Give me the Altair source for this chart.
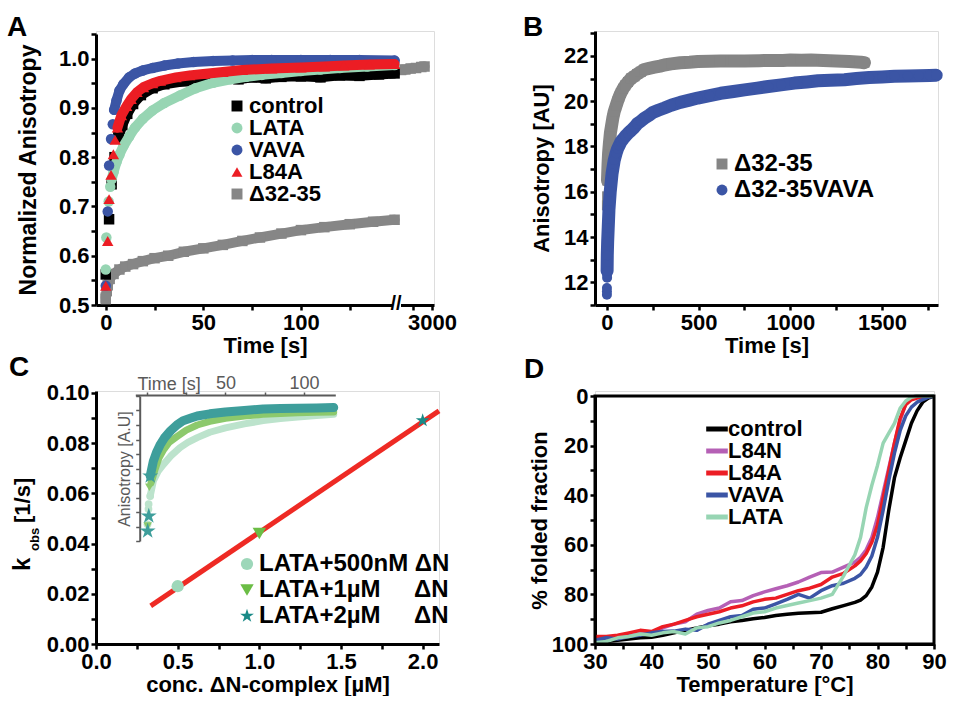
import altair as alt
import pandas as pd

F = "Liberation Sans"
STAR = "M0,-1L0.2245,-0.309L0.951,-0.309L0.363,0.118L0.588,0.809L0,0.382L-0.588,0.809L-0.363,0.118L-0.951,-0.309L-0.2245,-0.309Z"
HLINE = "M-1.8,0L1.8,0"

# ---------------- Panel A data ----------------
A_names = ["control", "LATA", "VAVA", "L84A", "Δ32-35"]
A_colors = ["#000000", "#97d5b3", "#3b55a5", "#ec1d24", "#868686"]
A_shapes = ["square", "circle", "circle", "triangle-up", "square"]

ctrl_mk_t = [0, 1.7, 3.0, 4.5, 6.5]
ctrl_mk_v = [0.562, 0.674, 0.745, 0.800, 0.840]
ctrl_bd_t = [6.5, 8.5, 11, 14, 18, 24, 30, 40, 50, 60, 68, 75, 82, 90, 100, 110, 120, 130, 140, 148]
ctrl_bd_v = [0.840, 0.865, 0.888, 0.908, 0.926, 0.940, 0.948, 0.954, 0.958, 0.960, 0.958, 0.962, 0.960, 0.963, 0.964, 0.962, 0.966, 0.965, 0.968, 0.970]

lata_mk_t = [0, 0.3, 1.5, 2.3]
lata_mk_v = [0.572, 0.637, 0.710, 0.740]
lata_bd_t = [3, 4, 5.5, 7, 9, 12, 15, 19, 24, 30, 38, 46, 55, 64, 72, 80, 90, 100, 110, 120, 134, 148]
lata_bd_v = [0.755, 0.770, 0.790, 0.805, 0.822, 0.842, 0.860, 0.878, 0.895, 0.910, 0.925, 0.940, 0.951, 0.958, 0.963, 0.967, 0.971, 0.975, 0.978, 0.981, 0.984, 0.987]

vava_mk_t = [0, 1.0, 1.7, 2.7, 3.6]
vava_mk_v = [0.539, 0.690, 0.783, 0.837, 0.867]
vava_bd_t = [4.3, 5.5, 7, 9, 12, 15, 19, 24, 30, 37, 45, 55, 65, 75, 85, 100, 115, 130, 148]
vava_bd_v = [0.896, 0.915, 0.935, 0.948, 0.962, 0.970, 0.976, 0.981, 0.986, 0.990, 0.993, 0.995, 0.996, 0.997, 0.997, 0.997, 0.997, 0.997, 0.996]

l84a_mk_t = [0, 1.0, 1.7, 2.7, 3.9, 4.8]
l84a_mk_v = [0.539, 0.630, 0.715, 0.764, 0.806, 0.835]
l84a_bd_t = [6, 8, 10.7, 13, 16, 19.3, 24, 28, 36, 43, 50, 60, 70, 85, 100, 112, 122, 135, 148]
l84a_bd_v = [0.860, 0.885, 0.904, 0.918, 0.932, 0.942, 0.950, 0.955, 0.962, 0.966, 0.969, 0.973, 0.977, 0.980, 0.982, 0.984, 0.986, 0.988, 0.989]

d32_mk_t = [0, 0.5]
d32_mk_v = [0.512, 0.528]
d32_bd_t = [0, 1, 2, 4, 7, 10, 14, 19, 25, 32, 40, 50, 60, 70, 79, 90, 100, 112, 125, 137, 148]
d32_bd_v = [0.515, 0.540, 0.553, 0.563, 0.572, 0.578, 0.583, 0.589, 0.595, 0.600, 0.608, 0.615, 0.622, 0.630, 0.637, 0.645, 0.652, 0.658, 0.664, 0.669, 0.673]
d32_late_t = [2420, 2500, 2600, 2700, 2800, 2860]
d32_late_v = [0.977, 0.978, 0.980, 0.981, 0.983, 0.984]

# ---------------- Panel B data ----------------
B_names = ["Δ32-35", "Δ32-35VAVA"]
B_colors = ["#858585", "#3b55a5"]
B_shapes = ["square", "circle"]

g_mk_t = [0, 1, 3]
g_mk_v = [15.4, 15.8, 16.5]
g_bd_t = [3, 6, 9, 13, 19, 25, 32, 40, 50, 58, 67, 76, 88, 100, 115, 131, 150, 165, 185, 204,
          230, 260, 290, 313, 350, 400, 450, 495, 560, 620, 690, 750, 830, 900, 960, 1000, 1060, 1113,
          1180, 1250, 1320, 1385, 1404]
g_bd_v = [16.5, 17.2, 17.7, 18.1, 18.6, 18.9, 19.25, 19.55, 19.8, 20.0, 20.2, 20.36, 20.55, 20.7, 20.85, 21.0,
          21.1, 21.2, 21.3, 21.4, 21.45, 21.5, 21.55, 21.6, 21.65, 21.7, 21.72, 21.75, 21.76, 21.77, 21.78, 21.78,
          21.79, 21.8, 21.8, 21.82, 21.81, 21.82, 21.8, 21.78, 21.75, 21.72, 21.7]

b_mk_t = [0, 0, 0, 1, 1]
b_mk_v = [11.45, 11.6, 11.75, 12.2, 12.35]
b_bd_t = [1, 2, 4, 7, 11, 18, 28, 40, 50, 58, 67, 76, 88, 100, 115, 131, 150, 165, 185, 204,
          230, 250, 280, 313, 350, 400, 450, 495, 560, 620, 690, 750, 820, 880, 950, 1022, 1090, 1150,
          1220, 1295, 1360, 1430, 1500, 1567, 1640, 1700, 1760, 1795]
b_bd_v = [12.5, 13.2, 13.8, 14.4, 15.2, 16.0, 16.8, 17.4, 17.7, 17.9, 18.05, 18.2, 18.33, 18.45, 18.58, 18.7,
          18.85, 19.0, 19.12, 19.25, 19.38, 19.5, 19.6, 19.7, 19.82, 19.95, 20.05, 20.14, 20.25, 20.35, 20.43,
          20.5, 20.58, 20.65, 20.72, 20.8, 20.85, 20.9, 20.92, 20.95, 21.0, 21.05, 21.07, 21.1, 21.11, 21.12,
          21.14, 21.15]

# ---------------- Panel C data ----------------
C_names = ["LATA+500nM ΔN", "LATA+1µM\u00a0\u00a0\u00a0\u00a0\u00a0ΔN", "LATA+2µM\u00a0\u00a0\u00a0\u00a0\u00a0ΔN"]
C_colors = ["#9dd7b9", "#6bbd45", "#1a8a87"]
C_shapes = ["circle", "triangle-down", STAR]
C_sizes = [150, 210, 1900]
C_conc = [0.5, 1.0, 2.0]
C_kobs = [0.023, 0.044, 0.089]
fit_conc = [0.335, 2.1]
fit_kobs = [0.0152, 0.0928]

# inset traces (time [s], anisotropy [A.U])
i1_mk_t = [0.3, 0.9, 1.0, 2.0]
i1_mk_v = [0.115, 0.22, 0.255, 0.31]
i1_bd_t = [2, 4, 7, 10.6, 15, 21, 26, 32, 40, 50, 62, 74, 85, 96, 108, 119]
i1_bd_v = [0.31, 0.414, 0.48, 0.53, 0.585, 0.644, 0.68, 0.713, 0.75, 0.78, 0.808, 0.83, 0.845, 0.855, 0.866, 0.874]
i2_mk_t = [0.4, 1.5, 2.5]
i2_mk_v = [0.103, 0.37, 0.40]
i2_bd_t = [2.5, 5, 7.5, 10.6, 14, 19, 25, 32, 40, 50, 62, 74, 85, 96, 108, 119]
i2_bd_v = [0.40, 0.49, 0.57, 0.63, 0.68, 0.72, 0.765, 0.80, 0.825, 0.846, 0.862, 0.874, 0.88, 0.885, 0.888, 0.89]
i3_mk_t = [0.4, 1.1, 2.0]
i3_mk_v = [0.069, 0.172, 0.448]
i3_bd_t = [2, 4, 6, 8.5, 11, 15, 19, 23, 28, 32, 40, 50, 62, 74, 85, 96, 108, 119]
i3_bd_v = [0.448, 0.55, 0.61, 0.667, 0.71, 0.76, 0.80, 0.83, 0.848, 0.862, 0.877, 0.89, 0.90, 0.91, 0.913, 0.915, 0.918, 0.92]
I_colors = ["#bce3cc", "#8cc96c", "#3e9e9b"]

# ---------------- Panel D data ----------------
D_names = ["control", "L84N", "L84A", "VAVA", "LATA"]
D_colors = ["#000000", "#b560b5", "#ec1d24", "#3b55a5", "#97d5b3"]
D_temp = [30, 32, 34, 36, 38, 40, 42, 44, 46, 48, 50, 52, 54, 56, 58, 60, 62, 64, 66, 68, 70, 72, 74, 76,
          77, 78, 79, 80, 81, 82, 83, 84, 85, 86, 87, 88, 89, 90]
D_control = [99.5, 99, 98.5, 98, 97.5, 97.3, 96.5, 95.5, 94.5, 93.5, 92.6, 92, 91, 90.5, 89.8, 89.3, 88.5, 88,
             87.6, 87.4, 87.2, 85.8, 84.5, 83.2, 82.3, 80.5, 77, 71, 61, 46, 33, 25, 18, 11, 6, 2.5, 0.8, 0]
D_l84n = [98, 97.5, 97, 96, 95, 95.5, 93.5, 92, 91, 88, 86.5, 85.5, 83, 82.5, 80.5, 79, 77.7, 76.5, 75, 73,
          71.2, 71, 69, 67, 65, 62, 57, 49, 39, 29, 19, 10, 3, 0.5, 0, 0, 0, 0]
D_l84a = [97, 97, 96.5, 95.5, 94.5, 95, 93, 92, 90.5, 89, 88, 87, 85.5, 84.6, 83, 82, 81.5, 80, 78.5, 77.5,
          76, 73, 71.5, 68.5, 66.5, 63.5, 59, 52, 41, 30, 19, 9, 3.5, 1.5, 0.8, 0.5, 0.2, 0]
D_vava = [98.5, 97.5, 98, 97, 96.5, 95.5, 95, 94.8, 94, 94.5, 92, 90.5, 89, 88.5, 86, 85.5, 83.8, 82, 80, 81.5,
          78.5, 76.5, 75.5, 73.5, 72, 69, 64.5, 57, 46, 34, 23, 14, 8, 4.5, 2.5, 1.5, 0.5, 0]
D_lata = [99.5, 99, 97.5, 97, 96, 96.5, 95.5, 95, 96, 93.5, 93, 91.5, 90.5, 89, 87.5, 87, 85.5, 84.5, 83.5,
          82.5, 81.5, 80, 72.5, 64, 57, 45, 36, 28, 19, 15, 11, 5, 2, 0.5, 0, 0, 0, 0]


# ---------------- helpers ----------------
def trace_rows(name, mk_t, mk_v, bd_t, bd_v, seg="a"):
    rows = [dict(series=name, t=t, v=v, kind="mk", seg=name + "m") for t, v in zip(mk_t, mk_v)]
    rows += [dict(series=name, t=t, v=v, kind="bd", seg=name + seg) for t, v in zip(bd_t, bd_v)]
    return rows


def axis(**kw):
    base = dict(domainColor="black", domainWidth=3, tickColor="black", tickWidth=2.5, tickSize=5,
                labelFont=F, labelFontSize=22, labelFontWeight="bold", labelColor="black",
                labelPadding=2, labelFlush=False, labelOverlap=False, grid=False,
                titleFont=F, titleFontSize=22, titleFontWeight="bold", titleColor="black")
    base.update(kw)
    return alt.Axis(**base)


def legend(**kw):
    base = dict(orient="none", title=None, labelFont=F, labelFontSize=22, labelFontWeight="bold",
                labelColor="black", symbolStrokeWidth=0, symbolOpacity=1, padding=0, labelOffset=5,
                labelLimit=0)
    base.update(kw)
    return alt.Legend(**base)


def text_mark(s, x, y, size=28, angle=0):
    return alt.Chart(pd.DataFrame({"s": [s]})).mark_text(
        font=F, fontSize=size, fontWeight="bold", align="left", baseline="alphabetic", angle=angle,
        color="black").encode(text="s:N", x=alt.value(x), y=alt.value(y))


# ---------------- Panel A ----------------
rowsA = []
rowsA += trace_rows("control", ctrl_mk_t, ctrl_mk_v, ctrl_bd_t, ctrl_bd_v)
rowsA += trace_rows("LATA", lata_mk_t, lata_mk_v, lata_bd_t, lata_bd_v)
rowsA += trace_rows("VAVA", vava_mk_t, vava_mk_v, vava_bd_t, vava_bd_v)
rowsA += trace_rows("L84A", l84a_mk_t, l84a_mk_v, l84a_bd_t, l84a_bd_v)
rowsA += trace_rows("Δ32-35", d32_mk_t, d32_mk_v, d32_bd_t, d32_bd_v)
rowsA += trace_rows("Δ32-35", [], [], d32_late_t, d32_late_v, seg="b")
dfA = pd.DataFrame(rowsA)

A_x = alt.X("t:Q", scale=alt.Scale(domain=[-5, 148, 2400, 3037.5], range=[0, 298.6, 304, 338], nice=False, zero=False),
            axis=axis(values=[0, 25, 50, 75, 100, 125, 2650, 3000],
                      labelExpr="(datum.value==0||datum.value==50||datum.value==100||datum.value==3000) ? format(datum.value,'d') : ''",
                      title="Time [s]", titlePadding=2))
A_y = alt.Y("v:Q", scale=alt.Scale(domain=[0.5, 1.05], range=[274, 3], nice=False, zero=False),
            axis=axis(values=[0.5, 0.55, 0.6, 0.65, 0.7, 0.75, 0.8, 0.85, 0.9, 0.95, 1.0, 1.05],
                      labelExpr="round(datum.value*100) % 10 == 0 ? format(datum.value, '.1f') : ''",
                      title="Normalized Anisotropy", titlePadding=18, titleFontSize=23))
legA = legend(legendX=130, legendY=64, symbolSize=120, rowPadding=-1, labelOffset=1)
A_fill = alt.Fill("series:N", scale=alt.Scale(domain=A_names, range=A_colors), legend=legA)
A_shape = alt.Shape("series:N", scale=alt.Scale(domain=A_names, range=A_shapes), legend=legA)

layersA = []
for s in ["Δ32-35", "control", "LATA", "VAVA", "L84A"]:
    col = A_colors[A_names.index(s)]
    sub = alt.Chart(dfA).transform_filter(alt.datum.series == s)
    layersA.append(sub.transform_filter(alt.datum.kind == "bd").mark_line(
        color=col, strokeWidth=10, strokeCap="round", strokeJoin="round").encode(x=A_x, y=A_y, detail="seg:N"))
    layersA.append(sub.mark_point(filled=True, opacity=1, size=130 if s == "L84A" else 110).encode(
        x=A_x, y=A_y, fill=A_fill, shape=A_shape))

brk_rect = alt.Chart(pd.DataFrame({"a": [0]})).mark_rect(color="white").encode(
    x=alt.value(297), x2=alt.value(305), y=alt.value(270), y2=alt.value(279))
brk_txt = alt.Chart(pd.DataFrame({"s": ["//"]})).mark_text(
    font=F, fontSize=20, fontWeight="bold", align="center", baseline="middle", color="black").encode(
    text="s:N", x=alt.value(300), y=alt.value(273))

chartA = alt.layer(*layersA, brk_rect, brk_txt, text_mark("A", -89, 5)).properties(width=338, height=274)

# ---------------- Panel B ----------------
rowsB = trace_rows("Δ32-35", g_mk_t, g_mk_v, g_bd_t, g_bd_v) + trace_rows("Δ32-35VAVA", b_mk_t, b_mk_v, b_bd_t, b_bd_v)
dfB = pd.DataFrame(rowsB)
B_x = alt.X("t:Q", scale=alt.Scale(domain=[-65, 1805], nice=False, zero=False),
            axis=axis(values=[0, 250, 500, 750, 1000, 1250, 1500, 1750],
                      labelExpr="datum.value % 500 == 0 ? format(datum.value,'d') : ''",
                      title="Time [s]", titlePadding=2))
B_y = alt.Y("v:Q", scale=alt.Scale(domain=[11, 23.1], nice=False, zero=False),
            axis=axis(values=[11, 12, 13, 14, 15, 16, 17, 18, 19, 20, 21, 22, 23],
                      labelExpr="datum.value % 2 == 0 ? datum.label : ''",
                      title="Anisotropy [AU]", titlePadding=10))
legB = legend(legendX=115, legendY=121, symbolSize=120, rowPadding=2, labelFontSize=24, labelOffset=0)
B_fill = alt.Fill("series:N", scale=alt.Scale(domain=B_names, range=B_colors), legend=legB)
B_shape = alt.Shape("series:N", scale=alt.Scale(domain=B_names, range=B_shapes), legend=legB)
layersB = []
for s, col in zip(B_names, B_colors):
    sub = alt.Chart(dfB).transform_filter(alt.datum.series == s)
    layersB.append(sub.transform_filter(alt.datum.kind == "bd").mark_line(
        color=col, strokeWidth=13, strokeCap="round", strokeJoin="round").encode(x=B_x, y=B_y, detail="seg:N"))
    layersB.append(sub.mark_point(filled=True, opacity=1, size=100).encode(x=B_x, y=B_y, fill=B_fill, shape=B_shape))
chartB = alt.layer(*layersB, text_mark("B", -72, 5)).properties(width=343, height=274)

# ---------------- Panel C ----------------
dfC = pd.DataFrame({"label": C_names, "conc": C_conc, "k": C_kobs})
dfFit = pd.DataFrame({"conc": fit_conc, "k": fit_kobs})
C_x = alt.X("conc:Q", scale=alt.Scale(domain=[0, 2.1], nice=False, zero=False),
            axis=axis(values=[0, 0.25, 0.5, 0.75, 1.0, 1.25, 1.5, 1.75, 2.0],
                      labelExpr="round(datum.value*100) % 50 == 0 ? format(datum.value,'.1f') : ''",
                      title="conc. ΔN-complex [µM]", titlePadding=2, orient="bottom"))
C_y = alt.Y("k:Q", scale=alt.Scale(domain=[0, 0.1007], nice=False, zero=False),
            axis=axis(values=[0, 0.01, 0.02, 0.03, 0.04, 0.05, 0.06, 0.07, 0.08, 0.09, 0.1],
                      labelExpr="round(datum.value*100) % 2 == 0 ? format(datum.value,'.2f') : ''",
                      title="", orient="left"))
legC = legend(legendX=139, legendY=161, rowPadding=2, labelFontSize=24, labelOffset=0)
C_fill = alt.Fill("label:N", scale=alt.Scale(domain=C_names, range=C_colors), legend=legC)
C_shape = alt.Shape("label:N", scale=alt.Scale(domain=C_names, range=C_shapes), legend=legC)
C_size = alt.Size("label:N", scale=alt.Scale(domain=C_names, range=C_sizes), legend=legC)
fit_line = alt.Chart(dfFit).mark_line(color="#ee2a24", strokeWidth=5).encode(x=C_x, y=C_y)
pts_C = alt.Chart(dfC).mark_point(filled=True, opacity=1).encode(
    x=C_x, y=C_y, fill=C_fill, shape=C_shape, size=C_size)
main_C = alt.layer(fit_line, pts_C,
                   text_mark("C", -87, -15),
                   text_mark("k", -66, 180, size=24, angle=270),
                   text_mark("obs", -57, 160, size=13, angle=270),
                   text_mark("[1/s]", -66, 132, size=22, angle=270))

rowsI = []
rowsI += trace_rows("i1", i1_mk_t, i1_mk_v, i1_bd_t, i1_bd_v)
rowsI += trace_rows("i2", i2_mk_t, i2_mk_v, i2_bd_t, i2_bd_v)
rowsI += trace_rows("i3", i3_mk_t, i3_mk_v, i3_bd_t, i3_bd_v)
dfI = pd.DataFrame(rowsI)
GRAY = "#5a5a5a"
I_x = alt.X("t:Q", scale=alt.Scale(domain=[-7.5, 120], range=[39.3, 239.3], nice=False, zero=False),
            axis=alt.Axis(orient="top", offset=-4, values=[0, 25, 50, 75, 100],
                          labelExpr="(datum.value==50||datum.value==100) ? datum.label : ''",
                          labelFont=F, labelFontSize=18, labelColor=GRAY, labelPadding=0, labelFlush=False,
                          domainColor=GRAY, domainWidth=2, tickColor=GRAY, tickWidth=1.5, tickSize=3, grid=False,
                          title="Time [s]", titleFont=F, titleFontSize=18, titleFontWeight="normal", titleColor=GRAY,
                          titleX=41, titleY=-6, titleAlign="left", titleBaseline="alphabetic"))
I_y = alt.Y("v:Q", scale=alt.Scale(domain=[0, 1], range=[150, 5], nice=False, zero=False),
            axis=alt.Axis(orient="left", offset=-43.7, values=[0, 0.1, 0.2, 0.3, 0.4, 0.5, 0.6, 0.7, 0.8, 0.9, 1.0],
                          labels=False, domainColor=GRAY, domainWidth=2, tickColor=GRAY, tickWidth=1.5, tickSize=4,
                          grid=False, title="Anisotropy [A.U]", titleFont=F, titleFontSize=16,
                          titleFontWeight="normal", titleColor=GRAY, titlePadding=2))
inset_layers = []
for sid, col, shp, sw, sz in [("i1", I_colors[0], "circle", 7, 60), ("i2", I_colors[1], "triangle-down", 7, 75),
                              ("i3", I_colors[2], STAR, 9, 280)]:
    sub = alt.Chart(dfI).transform_filter(alt.datum.series == sid)
    inset_layers.append(sub.transform_filter(alt.datum.kind == "bd").mark_line(
        color=col, strokeWidth=sw, strokeCap="round", strokeJoin="round").encode(x=I_x, y=I_y, detail="seg:N"))
    inset_layers.append(sub.transform_filter(alt.datum.kind == "mk").mark_point(
        filled=True, opacity=1, color=col, shape=shp, size=sz).encode(x=I_x, y=I_y))
inset = alt.layer(*inset_layers)

chartC = alt.layer(main_C, inset).resolve_scale(x="independent", y="independent").properties(width=343, height=253)

# ---------------- Panel D ----------------
rowsD = []
for name, vals in zip(D_names, [D_control, D_l84n, D_l84a, D_vava, D_lata]):
    rowsD += [dict(series=name, T=t, f=v) for t, v in zip(D_temp, vals)]
dfD = pd.DataFrame(rowsD)
D_x = alt.X("T:Q", scale=alt.Scale(domain=[30, 90], nice=False, zero=False),
            axis=axis(values=[30, 35, 40, 45, 50, 55, 60, 65, 70, 75, 80, 85, 90],
                      labelExpr="datum.value % 10 == 0 ? datum.label : ''",
                      title="Temperature [°C]", titlePadding=2))
D_y = alt.Y("f:Q", scale=alt.Scale(domain=[0, 100], range=[5, 253], nice=False, zero=False),
            axis=axis(values=[0, 10, 20, 30, 40, 50, 60, 70, 80, 90, 100],
                      labelExpr="datum.value % 20 == 0 ? datum.label : ''",
                      title="% folded fraction", titlePadding=0))
legD = legend(legendX=111, legendY=27, symbolType=HLINE, symbolSize=144, symbolStrokeWidth=5,
              rowPadding=-1, labelOffset=0)
D_stroke = alt.Stroke("series:N", scale=alt.Scale(domain=D_names, range=D_colors), legend=legD)
layersD = []
for s in D_names:
    layersD.append(alt.Chart(dfD).transform_filter(alt.datum.series == s).mark_line(
        strokeWidth=3.5, strokeJoin="round").encode(x=D_x, y=D_y, stroke=D_stroke))
box = alt.Chart(pd.DataFrame({"a": [0]})).mark_rect(fillOpacity=0, stroke="black", strokeWidth=3).encode(
    x=alt.value(0), x2=alt.value(339), y=alt.value(5), y2=alt.value(253))
chartD = alt.layer(*layersD, box, text_mark("D", -71, -13)).properties(width=339, height=253)

# ---------------- layout ----------------
chart = alt.concat(chartA, chartB, chartC, chartD, columns=2, bounds="flush",
                   spacing={"row": 86, "column": 156}).resolve_scale(
    fill="independent", shape="independent", stroke="independent", size="independent"
).resolve_legend(fill="independent", shape="independent", stroke="independent", size="independent").properties(
    padding={"left": 6, "top": 13, "right": 0, "bottom": 0}
).configure_view(strokeWidth=0).configure(font=F)

chart.save("out.html", embed_options={"renderer": "svg", "actions": False})
